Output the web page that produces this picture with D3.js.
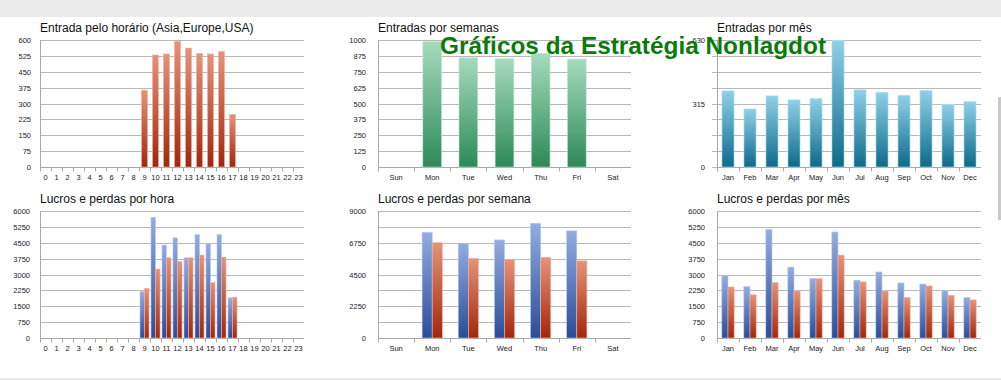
<!DOCTYPE html>
<html>
<head>
<meta charset="utf-8">
<script src="https://cdn.jsdelivr.net/npm/d3@7"></script>
<style>
  body { margin: 0; background: #fff; }
  svg { display: block; font-family: "Liberation Sans", Arial, sans-serif; }
</style>
</head>
<body>
<div id="chart"></div>
<script>
// data
const hours = d3.range(24).map(String);
const weekDays = ['Sun', 'Mon', 'Tue', 'Wed', 'Thu', 'Fri', 'Sat'];
const months = ['Jan', 'Feb', 'Mar', 'Apr', 'May', 'Jun', 'Jul', 'Aug', 'Sep', 'Oct', 'Nov', 'Dec'];

const entriesByHour = [0, 0, 0, 0, 0, 0, 0, 0, 0, 363, 529, 534, 594, 562, 537, 534, 546, 248, 0, 0, 0, 0, 0, 0];
const entriesByWeek = [0, 987, 860, 853, 895, 850, 0];
const entriesByMonth = [378, 288, 353, 333, 340, 628, 383, 371, 356, 380, 310, 325];

const profitByHour = [0, 0, 0, 0, 0, 0, 0, 0, 0, 2190, 5700, 4390, 4730, 3790, 4890, 4470, 4890, 1900, 0, 0, 0, 0, 0, 0];
const lossByHour = [0, 0, 0, 0, 0, 0, 0, 0, 0, 2350, 3260, 3790, 3620, 3790, 3920, 2630, 3820, 1930, 0, 0, 0, 0, 0, 0];
const profitByWeek = [0, 7490, 6715, 6950, 8130, 7590, 0];
const lossByWeek = [0, 6760, 5650, 5580, 5720, 5470, 0];
const profitByMonth = [2945, 2430, 5120, 3350, 2820, 5010, 2730, 3120, 2600, 2550, 2225, 1910];
const lossByMonth = [2410, 2040, 2615, 2225, 2800, 3915, 2650, 2225, 1910, 2460, 2020, 1800];

const ticks600 = d3.range(0, 601, 75);
const ticks1000 = d3.range(0, 1001, 125);
const ticks630 = [0, 315, 630];
const ticks6000 = d3.range(0, 6001, 750);
const ticks9000 = [0, 2250, 4500, 6750, 9000];

const W = 1001, H = 380;
const svg = d3.select('#chart').append('svg').attr('width', W).attr('height', H);

// window frame
svg.append('rect').attr('width', W).attr('height', 17).attr('fill', '#ebebeb');
svg.append('rect').attr('y', 378).attr('width', W).attr('height', 2).attr('fill', '#ebebeb');
svg.append('rect').attr('x', 998).attr('y', 97).attr('width', 3).attr('height', 123).attr('fill', '#c9c9c9');

const defs = svg.append('defs');
function gradient(id, top, bottom) {
  const g = defs.append('linearGradient').attr('id', id)
    .attr('x1', 0).attr('y1', 0).attr('x2', 0).attr('y2', 1);
  g.append('stop').attr('offset', '0%').attr('stop-color', top);
  g.append('stop').attr('offset', '100%').attr('stop-color', bottom);
}
gradient('gRed', '#e5937b', '#a3260b');
gradient('gGreen', '#a6dbbe', '#2c8a56');
gradient('gTeal', '#8fd1e7', '#0c6a8b');
gradient('gBlue', '#93addf', '#2a4c9a');

function panel(opt) {
  const g = svg.append('g');
  const x = d3.scaleBand().domain(opt.cats).range([opt.x, opt.x + opt.w]);
  const y = d3.scaleLinear().domain([0, opt.max]).range([opt.y + opt.h, opt.y]);

  g.append('text').attr('x', opt.x).attr('y', opt.y - 8)
    .attr('font-size', 12).attr('fill', '#111').text(opt.title);

  // gridlines
  g.selectAll('.grid').data(opt.grid).join('line')
    .attr('x1', opt.x - (opt.gridOut || 0)).attr('x2', opt.x + opt.w)
    .attr('y1', d => Math.round(y(d)) + 0.5).attr('y2', d => Math.round(y(d)) + 0.5)
    .attr('stroke', '#b8b8b8');

  // y labels
  g.selectAll('.yl').data(opt.labels).join('text')
    .attr('x', opt.x - opt.labelGap).attr('y', d => y(d) + 3)
    .attr('text-anchor', 'end').attr('font-size', 7.5).attr('fill', '#222')
    .text(d => d);

  // left axis
  g.append('line').attr('x1', opt.x + 0.5).attr('x2', opt.x + 0.5)
    .attr('y1', opt.y).attr('y2', opt.y + opt.h).attr('stroke', '#a8a8a8');

  // bottom axis with ticks at band edges
  const xAxis = g.append('g').attr('transform', `translate(0,${Math.round(opt.y + opt.h) + 0.5})`);
  xAxis.append('line').attr('x1', opt.x).attr('x2', opt.x + opt.w).attr('stroke', '#a8a8a8');
  xAxis.selectAll('.tk').data(opt.cats).join('line')
    .attr('x1', d => Math.round(x(d)) + 0.5).attr('x2', d => Math.round(x(d)) + 0.5)
    .attr('y1', 0).attr('y2', 4).attr('stroke', '#a8a8a8');
  xAxis.selectAll('.xl').data(opt.cats).join('text')
    .attr('x', d => x(d) + x.bandwidth() / 2).attr('y', 12)
    .attr('text-anchor', 'middle').attr('font-size', 7.5).attr('fill', '#222')
    .text(d => d);

  // bars
  const groupW = x.bandwidth() * opt.barFrac;
  const nSeries = opt.series.length;
  const bw = groupW / nSeries;
  opt.series.forEach((s, si) => {
    g.selectAll('.b' + si).data(opt.cats.map((c, i) => ({ c, v: s.values[i] })).filter(d => d.v > 0))
      .join('rect')
      .attr('x', d => x(d.c) + (x.bandwidth() - groupW) / 2 + si * bw)
      .attr('y', d => y(d.v))
      .attr('width', bw)
      .attr('height', d => y(0) - y(d.v))
      .attr('fill', `url(#${s.fill})`)
      .attr('stroke', s.edge).attr('stroke-width', 0.6);
  });
}

const red = { fill: 'gRed', edge: '#f0b4a2' };
const blue = { fill: 'gBlue', edge: '#b7c8ea' };

panel({ title: 'Entrada pelo horário (Asia,Europe,USA)', x: 40, y: 40, w: 264, h: 127, max: 600,
  cats: hours, grid: ticks600, labels: ticks600, labelGap: 9, barFrac: 0.55,
  series: [{ ...red, values: entriesByHour }] });
panel({ title: 'Entradas por semanas', x: 378, y: 40, w: 253, h: 127, max: 1000,
  cats: weekDays, grid: ticks1000, labels: ticks1000, labelGap: 12, barFrac: 0.52,
  series: [{ fill: 'gGreen', edge: '#c3e8d3', values: entriesByWeek }] });
panel({ title: 'Entradas por mês', x: 717, y: 40, w: 264, h: 127, max: 630,
  cats: months, grid: d3.range(0, 631, 78.75), labels: ticks630, labelGap: 12, gridOut: 5, barFrac: 0.55,
  series: [{ fill: 'gTeal', edge: '#b5e3f0', values: entriesByMonth }] });

panel({ title: 'Lucros e perdas por hora', x: 40, y: 211, w: 264, h: 127, max: 6000,
  cats: hours, grid: ticks6000, labels: ticks6000, labelGap: 10, barFrac: 0.82,
  series: [{ ...blue, values: profitByHour }, { ...red, values: lossByHour }] });
panel({ title: 'Lucros e perdas por semana', x: 378, y: 211, w: 253, h: 127, max: 9000,
  cats: weekDays, grid: d3.range(0, 9001, 1125), labels: ticks9000, labelGap: 12, barFrac: 0.56,
  series: [{ ...blue, values: profitByWeek }, { ...red, values: lossByWeek }] });
panel({ title: 'Lucros e perdas por mês', x: 717, y: 211, w: 264, h: 127, max: 6000,
  cats: months, grid: ticks6000, labels: ticks6000, labelGap: 12, barFrac: 0.56,
  series: [{ ...blue, values: profitByMonth }, { ...red, values: lossByMonth }] });

// overlay title
svg.append('text').attr('x', 440).attr('y', 54)
  .attr('font-size', 24).attr('font-weight', 'bold').attr('fill', '#0a7b0a')
  .attr('textLength', 386).attr('lengthAdjust', 'spacingAndGlyphs')
  .text('Gráficos da Estratégia Nonlagdot');
</script>
</body>
</html>
